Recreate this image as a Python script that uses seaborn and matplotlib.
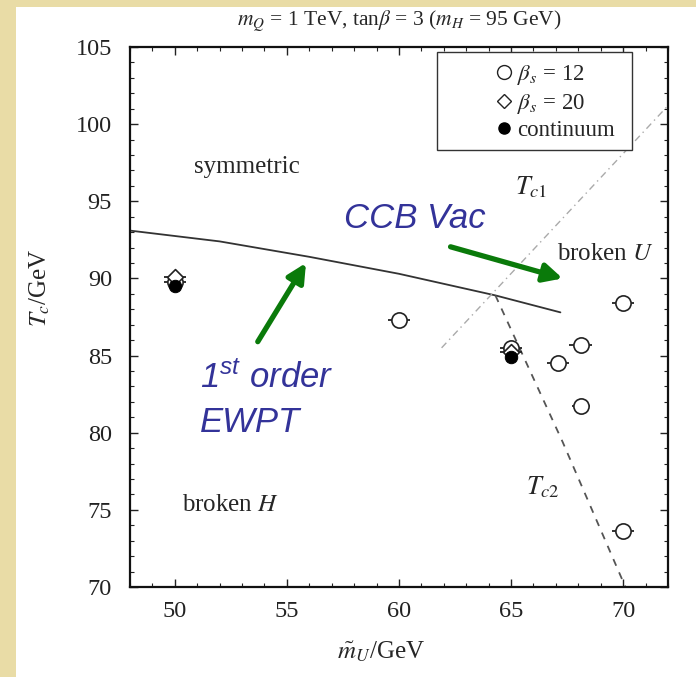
import matplotlib
matplotlib.use("Agg")
import matplotlib.pyplot as plt
import matplotlib.patches as mpatches
from matplotlib.ticker import MultipleLocator
import seaborn as sns
import pandas as pd

# ---------------- data ----------------
# first-order transition line (solid)
tc1_x = [48.0, 52.0, 56.0, 60.0, 64.3, 67.2]
tc1_y = [93.1, 92.4, 91.4, 90.3, 88.9, 87.8]
# CCB transition line (dash-dot)
ccb_x = [61.9, 72.0]
ccb_y = [85.5, 101.2]
# second transition line (dashed)
tc2_x = [64.3, 67.3, 70.1]
tc2_y = [88.9, 79.4, 70.0]

# points
b12_x = [50.0, 60.0, 65.0, 67.1, 68.1, 68.1, 70.0, 70.0]
b12_y = [89.8, 87.3, 85.5, 84.5, 85.7, 81.7, 88.4, 73.6]
b12_err = [0.5, 0.5, 0.5, 0.5, 0.5, 0.4, 0.5, 0.5]
b20_x = [50.0, 65.0]
b20_y = [90.1, 85.2]
cont_x = [50.0, 65.0]
cont_y = [89.5, 84.9]

x_ticks = [50, 55, 60, 65, 70]
y_ticks = [70, 75, 80, 85, 90, 95, 100, 105]

# ---------------- style ----------------
sns.set_theme(style="ticks")
plt.rcParams["font.family"] = ["Liberation Serif", "DejaVu Serif"]
plt.rcParams["mathtext.fontset"] = "stix"
plt.rcParams["mathtext.rm"] = "Liberation Sans:italic"
plt.rcParams["mathtext.it"] = "Liberation Sans:italic"

fig = plt.figure(figsize=(6.96, 6.77), dpi=100)
fig.patch.set_facecolor("#E9DCA6")
fig.patches.append(mpatches.Rectangle((16 / 696, 0), 1, 1 - 7 / 677,
                                      transform=fig.transFigure,
                                      facecolor="white", edgecolor="none",
                                      zorder=-10))
ax = fig.add_axes([130 / 696, 1 - 587 / 677, 538 / 696, 540 / 677])
ax.set_facecolor("white")

# lines
sns.lineplot(data=pd.DataFrame({"x": tc1_x, "y": tc1_y}), x="x", y="y",
             sort=False, estimator=None, ax=ax, color="#333333", lw=1.3)
sns.lineplot(data=pd.DataFrame({"x": ccb_x, "y": ccb_y}), x="x", y="y",
             sort=False, estimator=None, ax=ax, color="#aaaaaa", lw=1.0,
             linestyle=(0, (5, 3, 1, 3)))
sns.lineplot(data=pd.DataFrame({"x": tc2_x, "y": tc2_y}), x="x", y="y",
             sort=False, estimator=None, ax=ax, color="#555555", lw=1.3,
             linestyle=(0, (4, 4)))

# error bars
ax.errorbar(b12_x, b12_y, xerr=b12_err, fmt="none", ecolor="#222222",
            elinewidth=1.3, capsize=0, zorder=3)
ax.errorbar(b20_x, b20_y, xerr=0.5, fmt="none", ecolor="#222222",
            elinewidth=1.3, capsize=0, zorder=3)
# markers
sns.scatterplot(x=b12_x, y=b12_y, ax=ax, marker="o", s=120,
                facecolor="white", edgecolor="#222222", linewidth=1.2,
                zorder=4)
sns.scatterplot(x=b20_x, y=b20_y, ax=ax, marker="D", s=65,
                facecolor="white", edgecolor="#222222", linewidth=1.2,
                zorder=5)
sns.scatterplot(x=cont_x, y=cont_y, ax=ax, marker="o", s=80,
                color="black", edgecolor="black", zorder=6)

ax.set_xlim(48, 72)
ax.set_ylim(70, 105)
ax.set_xticks(x_ticks)
ax.set_yticks(y_ticks)
ax.xaxis.set_minor_locator(MultipleLocator(1))
ax.yaxis.set_minor_locator(MultipleLocator(1))
ax.tick_params(which="both", direction="in", top=True, right=True,
               colors="#222222", labelsize=17.5)
ax.tick_params(axis="x", which="both", pad=10)
ax.tick_params(axis="y", which="both", pad=13)
ax.tick_params(which="major", length=6, width=1)
ax.tick_params(which="minor", length=3, width=0.8)
for s in ax.spines.values():
    s.set_linewidth(1.6)
    s.set_color("#111111")

ax.set_xlabel(r"$\tilde{m}_U$/GeV", fontsize=18)
ax.xaxis.set_label_coords((381 - 130) / 538, (587 - 640) / 540)
ax.set_ylabel(r"$T_c$/GeV", fontsize=18)
ax.yaxis.set_label_coords((52 - 130) / 538, (587 - 288) / 540)
ax.set_title(r"$m_Q$ = 1 TeV, tan$\beta$ = 3 ($m_H$ = 95 GeV)",
             fontsize=15.5, pad=15)

# legend (frame drawn separately to match the wide box)
ax.add_patch(mpatches.Rectangle((0.571, 0.809), 0.362, 0.182,
                                transform=ax.transAxes, facecolor="white",
                                edgecolor="#333333", lw=1.0, zorder=7))
handles = [
    plt.Line2D([], [], marker="o", ls="none", mfc="white", mec="#222222",
               ms=10, label=r"$\beta_s$ = 12"),
    plt.Line2D([], [], marker="D", ls="none", mfc="white", mec="#222222",
               ms=7, label=r"$\beta_s$ = 20"),
    plt.Line2D([], [], marker="o", ls="none", mfc="black", mec="black",
               ms=8, label="continuum"),
]
leg = ax.legend(handles=handles, loc="center",
                bbox_to_anchor=(0.788, 0.898), fontsize=16.5, frameon=False,
                handletextpad=0.05, borderpad=0.0, labelspacing=0.2,
                handlelength=1.0)
leg.set_zorder(8)

# region labels
ax.text(53.2, 97.2, "symmetric", fontsize=18, ha="center", va="center")
ax.text(69.2, 91.6, r"broken $U$", fontsize=18, ha="center", va="center")
ax.text(52.5, 75.3, r"broken $H$", fontsize=18, ha="center", va="center")
ax.text(65.9, 95.9, r"$T_{c1}$", fontsize=19, ha="center", va="center")
ax.text(66.4, 76.5, r"$T_{c2}$", fontsize=19, ha="center", va="center")

# overlaid annotations
blue = "#333399"
ax.text(57.54, 93.27, "CCB Vac", fontsize=25, color=blue, style="italic",
        family="Liberation Sans", ha="left", va="baseline")
ax.text(51.12, 82.9, r"1$^{\mathrm{st}}$ order", fontsize=25, color=blue,
        style="italic", family="Liberation Sans", math_fontfamily="custom",
        ha="left", va="baseline")
ax.text(51.12, 80.05, "EWPT", fontsize=25, color=blue,
        style="italic", family="Liberation Sans", ha="left", va="baseline")
ax.annotate("", xy=(55.85, 91.0), xytext=(53.7, 85.9),
            arrowprops=dict(arrowstyle="-|>", color="#0A7A0A", lw=3.8,
                            mutation_scale=28, shrinkA=0, shrinkB=0))
ax.annotate("", xy=(67.3, 90.0), xytext=(62.3, 92.05),
            arrowprops=dict(arrowstyle="-|>", color="#0A7A0A", lw=3.8,
                            mutation_scale=28, shrinkA=0, shrinkB=0))

fig.savefig("out.png", dpi=100, facecolor=fig.get_facecolor())
